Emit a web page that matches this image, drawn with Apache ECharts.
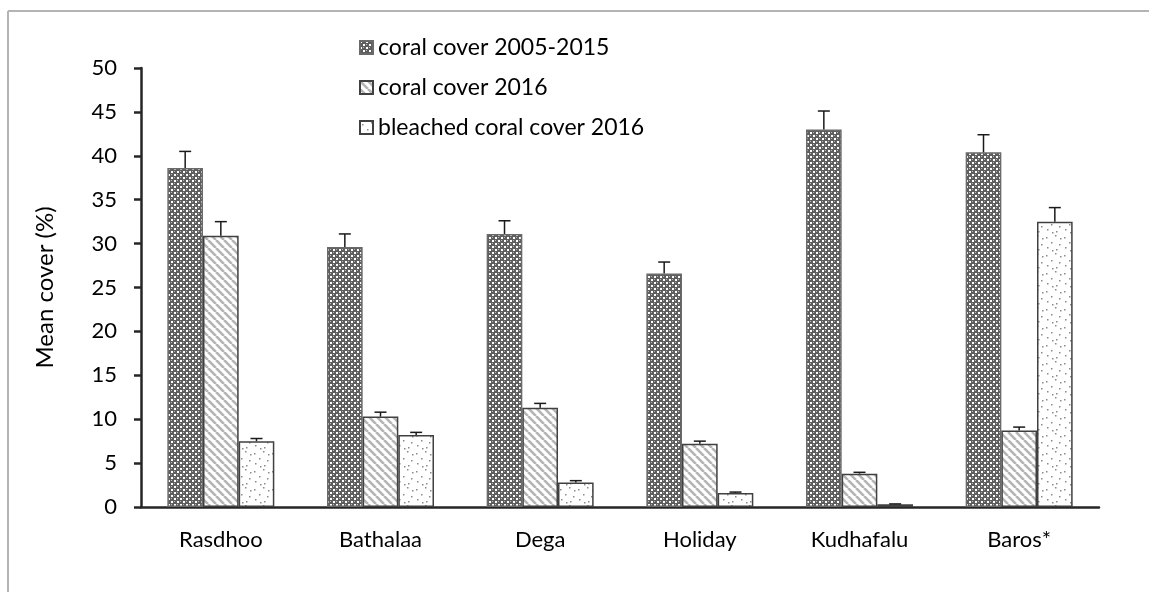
<!DOCTYPE html>
<html>
<head>
<meta charset="utf-8">
<script src="https://cdn.jsdelivr.net/npm/echarts@6/dist/echarts.min.js"></script>
<style>
  html, body { margin: 0; padding: 0; background: #fff; }
  #chart { width: 1149px; height: 592px; }
</style>
</head>
<body>
<div id="chart"></div>
<script>
// sites
const categories = ["Rasdhoo", "Bathalaa", "Dega", "Holiday", "Kudhafalu", "Baros*"]
const seriesNames = ["coral cover 2005-2015", "coral cover 2016", "bleached coral cover 2016"]

// mean cover (%)
const cover0515 = [38.6, 29.6, 31.1, 26.6, 43.0, 40.4]
const cover2016 = [30.9, 10.3, 11.3, 7.2, 3.8, 8.7]
const bleached2016 = [7.5, 8.2, 2.8, 1.6, 0.3, 32.5]

// standard error (upper bar only)
const err0515 = [1.9, 1.5, 1.5, 1.3, 2.1, 2.0]
const err2016 = [1.6, 0.5, 0.5, 0.3, 0.15, 0.4]
const errBleached = [0.3, 0.3, 0.2, 0.1, 0.05, 1.6]

const yTicks = [0, 5, 10, 15, 20, 25, 30, 35, 40, 45, 50]

const gapRatio = 0.33

// hatch fills like the excel original
function makePattern(kind) {
  const c = document.createElement("canvas")
  const ctx = c.getContext("2d")
  if (kind === 0) {
    c.width = 6; c.height = 6
    ctx.fillStyle = "#5e5e5e"
    ctx.fillRect(0, 0, 6, 6)
    ctx.fillStyle = "#ffffff"
    ctx.fillRect(0, 0, 2, 2)
    ctx.fillRect(3, 3, 2, 2)
    ctx.fillStyle = "#b8b8b8"
    ctx.fillRect(3, 0, 1, 1)
    ctx.fillRect(0, 3, 1, 1)
  } else if (kind === 1) {
    c.width = 8; c.height = 8
    ctx.fillStyle = "#ffffff"
    ctx.fillRect(0, 0, 8, 8)
    ctx.strokeStyle = "#b5b5b5"
    ctx.lineWidth = 2.6
    ctx.beginPath()
    for (let k = -8; k <= 16; k += 8) {
      ctx.moveTo(k, 0)
      ctx.lineTo(k + 8, 8)
    }
    ctx.stroke()
  } else {
    c.width = 18; c.height = 18
    ctx.fillStyle = "#ffffff"
    ctx.fillRect(0, 0, 18, 18)
    ctx.fillStyle = "#8a8a8a"
    const dots = [[2, 3], [11, 1], [7, 8], [15, 10], [3, 13], [12, 15], [16, 4], [8, 16]]
    dots.forEach(([x, y]) => ctx.fillRect(x, y, 1.5, 1.5))
  }
  return { image: c, repeat: "repeat" }
}

const fills = [makePattern(0), makePattern(1), makePattern(2)]
const borders = ["#6a6a6a", "#404040", "#404040"]
const values = [cover0515, cover2016, bleached2016]
const errors = [err0515, err2016, errBleached]

const chart = echarts.init(document.getElementById("chart"))

const barSeries = values.map((vals, i) => ({
  name: seriesNames[i],
  type: "bar",
  data: vals,
  barGap: 0,
  barCategoryGap: gapRatio * 100 + "%",
  itemStyle: {
    color: fills[i],
    borderColor: borders[i],
    borderWidth: 1.5,
  },
}))

const errSeries = errors.map((errs, i) => ({
  type: "custom",
  silent: true,
  z: 5,
  data: errs.map((e, j) => [j, values[i][j], e]),
  encode: { x: 0, y: 1 },
  renderItem: (params, api) => {
    const base = api.coord([api.value(0), api.value(1)])
    const top = api.coord([api.value(0), api.value(1) + api.value(2)])
    const band = api.size([1, 0])[0]
    const bw = (band * (1 - gapRatio)) / 3
    const x = base[0] + (i - 1) * bw
    const style = { stroke: "#1a1a1a", lineWidth: 1.5 }
    return {
      type: "group",
      children: [
        { type: "line", shape: { x1: x, y1: base[1], x2: x, y2: top[1] }, style },
        { type: "line", shape: { x1: x - 6, y1: top[1], x2: x + 6, y2: top[1] }, style },
      ],
    }
  },
}))

const option = {
  animation: false,
  textStyle: { fontFamily: "Lato, 'Open Sans', sans-serif" },
  graphic: [
    { type: "line", shape: { x1: 8, y1: 11, x2: 1149, y2: 11 }, style: { stroke: "#b4b4b4", lineWidth: 2 } },
    { type: "line", shape: { x1: 8, y1: 11, x2: 8, y2: 592 }, style: { stroke: "#b4b4b4", lineWidth: 2 } },
  ],
  legend: {
    orient: "vertical",
    left: 354,
    top: 31,
    itemGap: 17,
    itemWidth: 13,
    itemHeight: 13,
    icon: "rect",
    data: seriesNames,
    textStyle: { fontSize: 23, color: "#000", fontFamily: "Lato, sans-serif", padding: [0, 0, 0, 0] },
  },
  grid: { left: 141, right: 50, top: 68, bottom: 85 },
  xAxis: {
    type: "category",
    data: categories,
    axisLine: { lineStyle: { color: "#262626", width: 2.5 } },
    axisTick: { length: 7, lineStyle: { color: "#262626", width: 2.5 } },
    axisLabel: { fontSize: 22, color: "#000", margin: 22, fontFamily: "Lato, sans-serif" },
  },
  yAxis: {
    type: "value",
    min: yTicks[0],
    max: yTicks[yTicks.length - 1],
    interval: yTicks[1] - yTicks[0],
    name: "Mean cover (%)",
    nameLocation: "middle",
    nameGap: 84,
    nameTextStyle: { fontSize: 24, color: "#000", fontFamily: "Lato, sans-serif" },
    axisLine: { show: true, lineStyle: { color: "#262626", width: 2.5 } },
    axisTick: { show: true, length: 7, lineStyle: { color: "#262626", width: 2.5 } },
    axisLabel: { fontSize: 22, color: "#000", margin: 24, fontFamily: "Lato, sans-serif" },
    splitLine: { show: false },
  },
  series: [...barSeries, ...errSeries],
}

chart.setOption(option)
</script>
</body>
</html>
